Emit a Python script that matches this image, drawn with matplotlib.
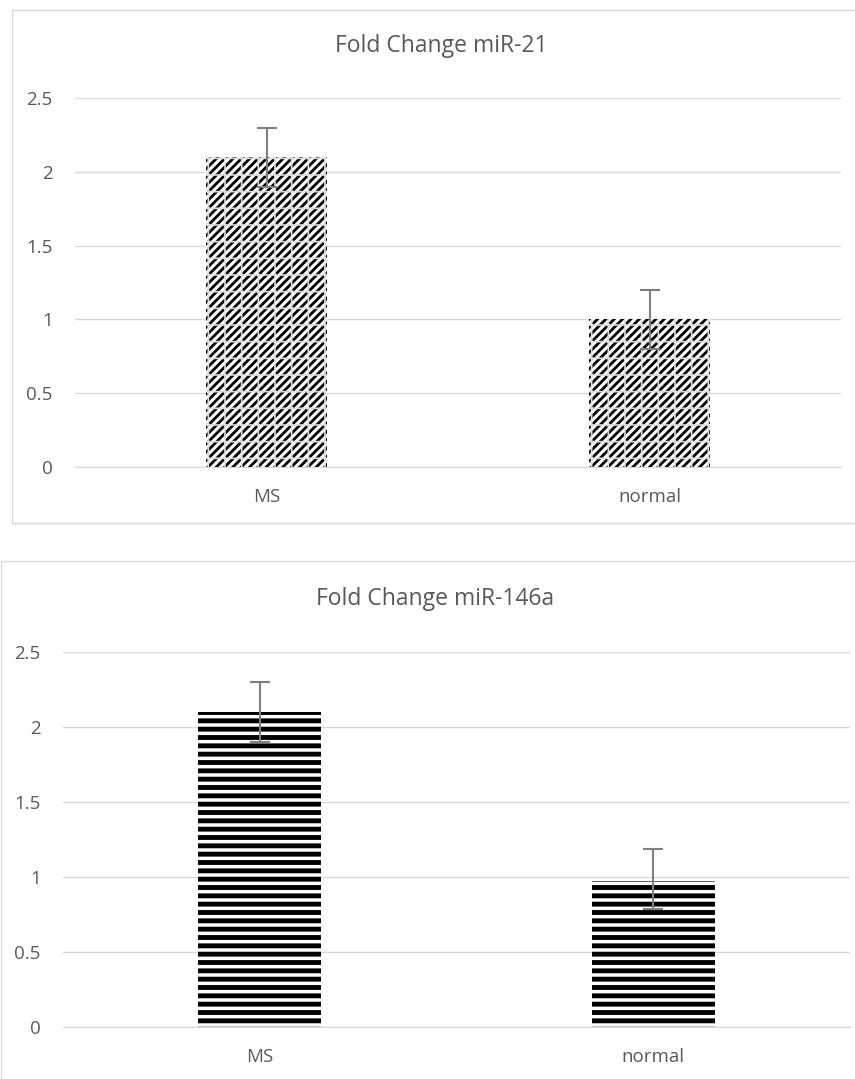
import numpy as np
import matplotlib.pyplot as plt
from matplotlib.patches import Rectangle

plt.rcParams['font.family'] = ['Open Sans', 'DejaVu Sans']

groups = ['MS', 'normal']
mir21 = [2.1, 1.0]
mir21_err_lo = [0.2, 0.2]
mir21_err_hi = [0.2, 0.2]
mir146a = [2.1, 0.975]
mir146a_err_lo = [0.2, 0.19]
mir146a_err_hi = [0.2, 0.215]
yticks = [0, 0.5, 1, 1.5, 2, 2.5]
ytick_labels = ['0', '0.5', '1', '1.5', '2', '2.5']

W, H = 855, 1079
fig = plt.figure(figsize=(W / 100, H / 100), dpi=100)

grid_c = '#d9d9d9'
text_c = '#595959'


def px_box(x0, y0, x1, y1):
    # pixel coords (top-left origin) -> figure fraction rect
    return [x0 / W, 1 - y1 / H, (x1 - x0) / W, (y1 - y0) / H]


def set_hlw(bars, hlw):
    for b in bars:
        if hasattr(b, 'set_hatch_linewidth'):
            b.set_hatch_linewidth(hlw)


def draw_panel(rect, vals, err_lo, err_hi, title, title_xy, hatch, hlw, width, grid_overlay):
    ax = fig.add_axes(rect)
    x = np.arange(len(groups))
    plt.rcParams['hatch.linewidth'] = hlw
    bars = ax.bar(x, vals, width=width, color='white', edgecolor='black',
                  hatch=hatch, linewidth=0, zorder=3)
    set_hlw(bars, hlw)
    if grid_overlay:
        plt.rcParams['hatch.linewidth'] = 1.2
        over = ax.bar(x, vals, width=width, color='none', edgecolor='#dddddd',
                      hatch='+', linewidth=0, zorder=3.5)
        set_hlw(over, 1.2)
    ax.errorbar(x, vals, yerr=[err_lo, err_hi], fmt='none', ecolor='#7f7f7f',
                elinewidth=1.5, capsize=7, capthick=1.5, zorder=4)
    ax.set_xlim(-0.5, 1.5)
    ax.set_ylim(0, 2.5)
    ax.set_yticks(yticks)
    ax.set_yticklabels(ytick_labels)
    ax.set_xticks(x)
    ax.set_xticklabels(groups)
    ax.grid(axis='y', color=grid_c, linewidth=1, zorder=0)
    ax.set_axisbelow(True)
    for s in ['top', 'right', 'left']:
        ax.spines[s].set_visible(False)
    ax.spines['bottom'].set_color(grid_c)
    ax.tick_params(axis='both', length=0, colors=text_c, labelsize=13.5)
    ax.tick_params(axis='y', pad=16)
    ax.tick_params(axis='x', pad=15)
    fig.text(title_xy[0] / W, 1 - title_xy[1] / H, title, ha='center',
             va='center', fontsize=16.5, color=text_c)
    return ax


# chart borders
fig.patches.append(Rectangle((12 / W, 1 - 523 / H), (W + 5 - 12) / W, (523 - 10) / H,
                             transform=fig.transFigure, fill=False,
                             edgecolor=grid_c, linewidth=1))
fig.patches.append(Rectangle((1 / W, 1 - (H + 5) / H), (W + 5) / W, (H + 5 - 561) / H,
                             transform=fig.transFigure, fill=False,
                             edgecolor=grid_c, linewidth=1))

draw_panel(px_box(75, 98, 841, 467), mir21, mir21_err_lo, mir21_err_hi,
           'Fold Change miR-21', (441, 46), '////', 2.0, 0.316, True)
draw_panel(px_box(63, 652, 850, 1027), mir146a, mir146a_err_lo, mir146a_err_hi,
           'Fold Change miR-146a', (435, 599), '--', 3.5, 0.313, False)

fig.savefig('out.png', dpi=100)
